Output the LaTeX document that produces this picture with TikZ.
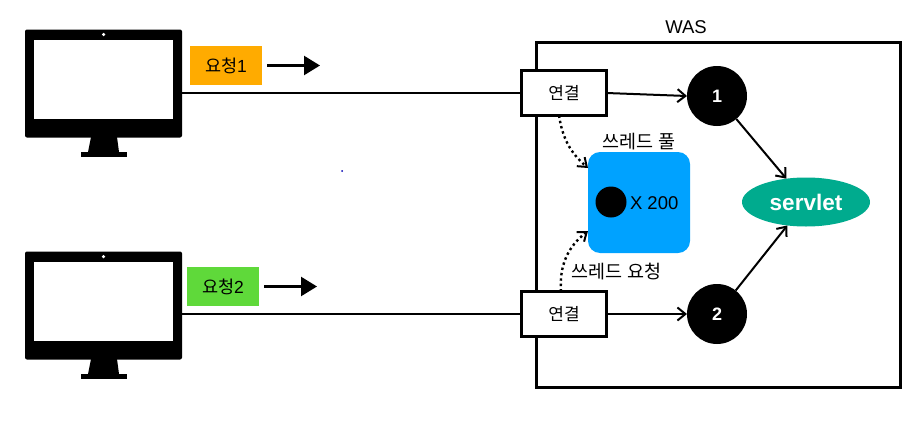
\documentclass[tikz,border=0pt]{standalone}
\usepackage{fontspec}
\setmainfont{Liberation Sans}
\newfontfamily\krfont{Noto Sans CJK KR}
\usetikzlibrary{arrows.meta,positioning,shapes.geometric}
\definecolor{cReqA}{HTML}{FFAB00}
\definecolor{cReqB}{HTML}{5FD93A}
\definecolor{cPool}{HTML}{00A2FF}
\definecolor{cSrv}{HTML}{00AB8E}
\tikzset{
  every node/.style={font=\fontsize{18.5}{20}\selectfont, text=black, inner sep=0pt, outer sep=0pt},
  monbody/.style={fill=black, rounded corners=2pt, minimum width=157pt, minimum height=108pt},
  monscreen/.style={fill=white, minimum width=139pt, minimum height=79pt},
  moncam/.style={circle, fill=white, minimum size=3.5pt},
  monbase/.style={fill=black, minimum width=46pt, minimum height=5pt},
  req/.style={minimum width=72pt, minimum height=39pt, font=\fontsize{17.5}{19}\selectfont},
  conn/.style={draw=black, line width=2.5pt, fill=white, minimum width=85pt, minimum height=45pt, font=\fontsize{17}{19}\selectfont},
  num/.style={circle, fill=black, minimum size=60pt, text=white, font=\fontsize{18}{20}\selectfont\bfseries},
  wire/.style={line width=2pt},
  arr/.style={line width=2pt, -{Straight Barb[length=8pt,width=13pt,line width=2pt]}},
  darr/.style={line width=2.4pt, dash pattern=on 2.4pt off 3pt, -{Straight Barb[length=8pt,width=12pt,line width=2pt]}},
  sarr/.style={line width=2.4pt, -{Triangle[length=16pt,width=19pt]}},
}
\begin{document}
\begin{tikzpicture}[x=1pt,y=-1pt]
\useasboundingbox (0,0) rectangle (912,423);
% ---------------- clients
\foreach \i/\d in {1/0,2/222}{
  \node[monbody] (pc\i) at (103.5,83.5+\d) {};
  \node[monscreen] (scr\i) at (103.5,79.5+\d) {};
  \node[moncam] (cam\i) at (103.5,34.5+\d) {};
  \node[monbase] (base\i) at (104,154.5+\d) {};
  \fill (91,137+\d) -- (117,137+\d) -- (119,152+\d) -- (88,152+\d) -- cycle;
}
\node[circle, fill=blue!70!black, minimum size=2pt] (speck) at (342,171) {};
% ---------------- requests
\node[req, fill=cReqA] (req1) at (226,65.5) {{\krfont 요청}1};
\node[req, fill=cReqB] (req2) at (223,286.5) {{\krfont 요청}2};
\coordinate (go1) at (320,65.5);
\coordinate (go2) at (317,286.5);
\draw[sarr] ([xshift=5pt]req1.east) -- (go1);
\draw[sarr] ([xshift=5pt]req2.east) -- (go2);
% ---------------- WAS
\node[draw=black, line width=3pt, minimum width=364pt, minimum height=345pt] (was) at (718,214.5) {};
\node (waslbl) at (686,27) {WAS};
\node[conn] (cn1) at (564,93) {\krfont 연결};
\node[conn] (cn2) at (564,314) {\krfont 연결};
\node[num] (n1) at (717,96) {1};
\node[num] (n2) at (717,314) {2};
\node[fill=cPool, rounded corners=12pt, minimum width=102pt, minimum height=101pt] (pool) at (639,202.5) {};
\node[circle, fill=black, minimum size=31pt] (th) at (611,202) {};
\node[anchor=west] (thn) at (630,203.5) {X 200};
\node[above=2pt of pool.north] (poollbl) {\krfont 쓰레드 풀};
\node (reqlbl) at (616.5,272) {\krfont 쓰레드 요청};
\node[ellipse, fill=cSrv, minimum width=128pt, minimum height=49pt, text=white, font=\fontsize{22.5}{24}\selectfont\bfseries] (srv) at (806,202) {servlet};
% ---------------- links
\draw[wire] (pc1.east |- cn1.west) -- (cn1.west);
\draw[wire] (pc2.east |- cn2.west) -- (cn2.west);
\draw[arr] (cn1.east) -- (n1.west);
\draw[arr] (cn2.east) -- (n2.west);
\draw[arr] (n1) -- (srv);
\draw[arr] (n2) -- (srv);
\draw[darr] ([xshift=-5pt]cn1.south) to[bend right=20] ([yshift=-16pt]pool.north west);
\draw[darr] ([xshift=-3pt]cn2.north) to[bend left=28] ([yshift=22pt]pool.south west);
\end{tikzpicture}
\end{document}
